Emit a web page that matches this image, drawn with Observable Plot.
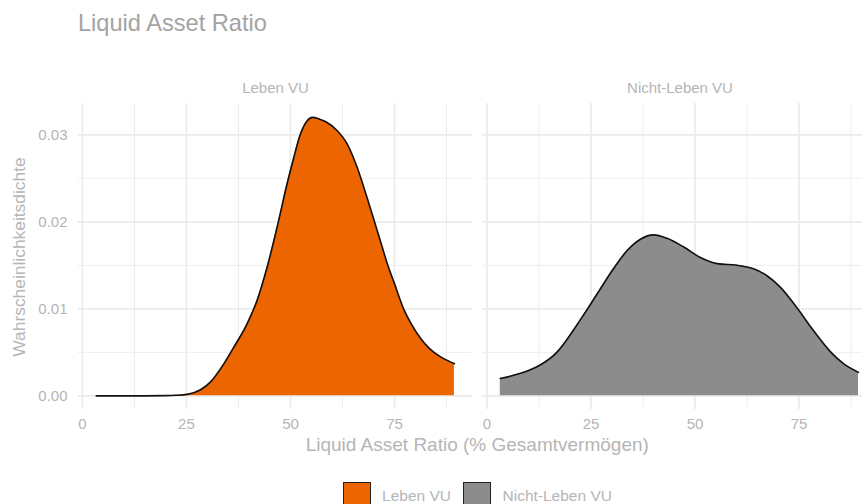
<!DOCTYPE html>
<html><head><meta charset="utf-8">
<script src="https://cdn.jsdelivr.net/npm/d3@7"></script>
<script src="https://cdn.jsdelivr.net/npm/@observablehq/plot@0.6"></script>
<style>
html,body{margin:0;padding:0;background:#fff;overflow:hidden;}
#wrap{width:890px;font-family:"Liberation Sans",Arial,Helvetica,sans-serif;position:relative;}
#title{height:46px;line-height:46px;padding-left:78px;font-size:23.6px;color:#a3a3a3;white-space:nowrap;}
#chart svg{display:block;overflow:visible;}
#xtitle{height:24px;line-height:24px;font-size:19px;color:#b5b5b5;text-align:center;padding-left:78px;padding-right:13.5px;white-space:nowrap;}
#ytitle{position:absolute;left:19.5px;top:257px;transform:translate(-50%,-50%) rotate(-90deg);font-size:17.4px;color:#b5b5b5;white-space:nowrap;line-height:1;}
#legend{margin-top:25px;display:flex;justify-content:center;align-items:center;padding-left:78px;padding-right:13.5px;font-size:15.5px;color:#b5b5b5;}
.item{display:flex;align-items:center;margin:0 6px;}
.key{width:26px;height:26px;border:1.5px solid #222;margin-right:11.5px;}
</style>
</head><body>
<div id="wrap">
  <div id="title">Liquid Asset Ratio</div>
  <div id="chart"></div>
  <div id="xtitle">Liquid Asset Ratio (% Gesamtvermögen)</div>
  <div id="ytitle">Wahrscheinlichkeitsdichte</div>
  <div id="legend"></div>
</div>
<script>
// categories
const groups = ["Leben VU", "Nicht-Leben VU"];
const groupColors = ["#EC6500", "#8C8C8C"];

// density curve: Leben VU
const lebenX = [3.3, 10, 15, 20, 22.5, 25.2, 28.4, 30.8, 33.2, 36.4, 39.6, 42, 44.4, 46.8, 49.2, 50.8, 52.4, 54, 55.3, 57, 58.5, 61.2, 63.6, 66, 68.4, 70.2, 71.8, 73.4, 75, 77.2, 79, 81.3, 83.5, 86, 89.4];
const lebenY = [0, 0, 0, 0.00002, 0.00006, 0.00017, 0.0007, 0.0016, 0.0031, 0.0056, 0.0083, 0.0110, 0.0148, 0.0194, 0.0244, 0.0274, 0.0301, 0.0316, 0.0320, 0.0318, 0.0315, 0.0305, 0.0290, 0.0263, 0.0228, 0.0200, 0.0175, 0.0150, 0.0129, 0.0100, 0.0083, 0.0066, 0.0054, 0.0045, 0.0037];

// density curve: Nicht-Leben VU
const nichtX = [3.2, 6, 10, 13, 16.8, 20, 22.4, 24.6, 27, 30.4, 33.7, 36.9, 40, 43.3, 47.3, 51.3, 55.3, 60.1, 64.1, 67.3, 70.5, 74.7, 77.7, 82.7, 85.7, 89.3];
const nichtY = [0.0020, 0.0023, 0.0029, 0.0036, 0.0050, 0.0070, 0.0087, 0.0103, 0.0121, 0.0146, 0.0167, 0.0180, 0.0185, 0.0181, 0.0171, 0.0159, 0.0152, 0.0150, 0.0146, 0.0138, 0.0125, 0.0100, 0.0080, 0.0050, 0.0037, 0.0027];

// tick labels
const xTicks = [0, 25, 50, 75];
const xMinor = [12.5, 37.5, 62.5, 87.5];
const yTicks = [0, 0.01, 0.02, 0.03];
const yMinor = [0.005, 0.015, 0.025];

const rows = [
  ...lebenX.map((x, i) => ({g: groups[0], x, y: lebenY[i]})),
  ...nichtX.map((x, i) => ({g: groups[1], x, y: nichtY[i]}))
];

const grid = "#ebebeb";
const curve = "monotone-x";
const chart = Plot.plot({
  width: 890,
  height: 387,
  marginTop: 57,
  marginBottom: 24,
  marginLeft: 78,
  marginRight: 13.5,
  style: {fontFamily: '"Liberation Sans", Arial, Helvetica, sans-serif', fontSize: "15px", color: "#b5b5b5", background: "transparent", overflow: "visible"},
  x: {domain: [-0.95, 93.75]},
  y: {domain: [-0.00157, 0.0336]},
  fx: {domain: groups, paddingInner: 0.026, paddingOuter: 0, round: false},
  color: {domain: groups, range: groupColors},
  marks: [
    Plot.gridX(xMinor, {stroke: grid, strokeOpacity: 1, strokeWidth: 0.9}),
    Plot.gridY(yMinor, {stroke: grid, strokeOpacity: 1, strokeWidth: 0.9}),
    Plot.gridX(xTicks, {stroke: grid, strokeOpacity: 1, strokeWidth: 1.7}),
    Plot.gridY(yTicks, {stroke: grid, strokeOpacity: 1, strokeWidth: 1.7}),
    Plot.areaY(rows, {x: "x", y: "y", fx: "g", fill: "g", curve}),
    Plot.lineY(rows, {x: "x", y: "y", fx: "g", z: "g", stroke: "#111", strokeWidth: 1.6, curve}),
    Plot.axisX(xTicks, {tickSize: 0, tickPadding: 9, label: null}),
    Plot.axisY(yTicks, {tickSize: 0, tickPadding: 11, tickFormat: d3.format(".2f"), label: null}),
    Plot.axisFx({anchor: "top", tickSize: 0, tickPadding: 10.5, label: null})
  ]
});
document.getElementById("chart").appendChild(chart);

const legend = document.getElementById("legend");
groups.forEach((g, i) => {
  const item = document.createElement("div");
  item.className = "item";
  const key = document.createElement("div");
  key.className = "key";
  key.style.background = groupColors[i];
  const label = document.createElement("span");
  label.textContent = g;
  item.appendChild(key);
  item.appendChild(label);
  legend.appendChild(item);
});
</script>
</body></html>
